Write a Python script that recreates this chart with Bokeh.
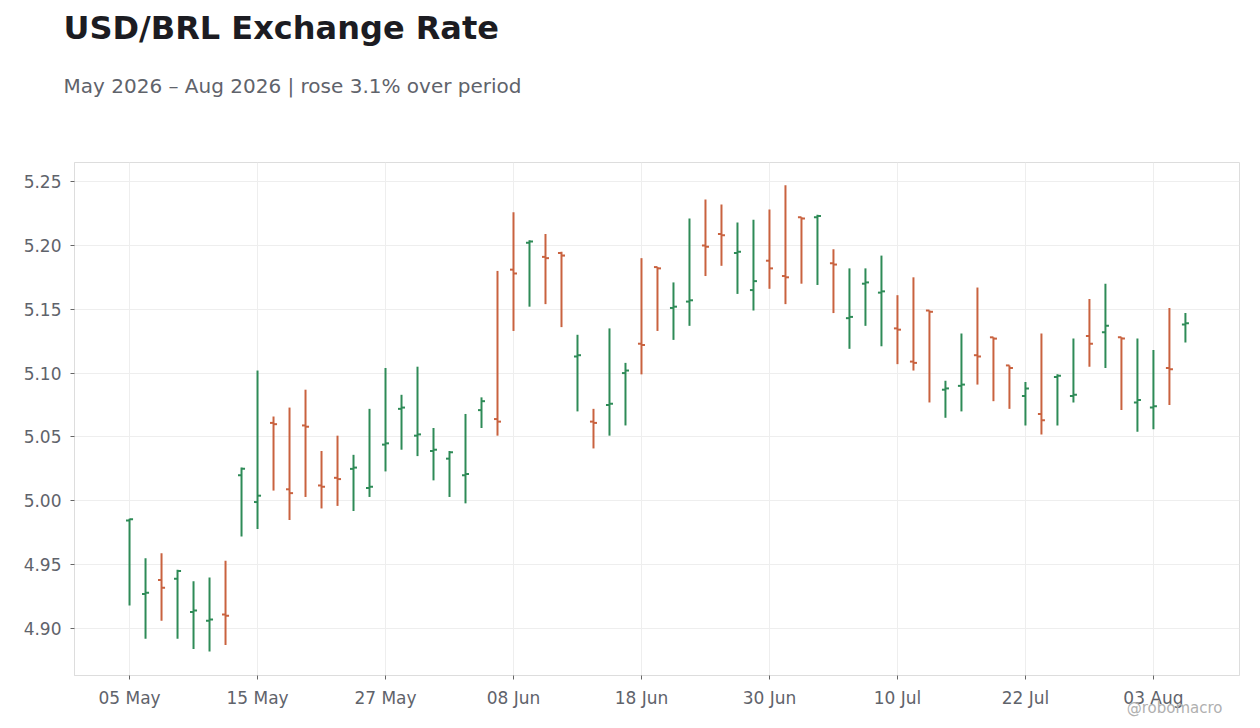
import pandas as pd
from bokeh.plotting import figure
from bokeh.models import ColumnDataSource, Range1d, FixedTicker, PrintfTickFormatter, Title
from bokeh.embed import file_html
from bokeh.resources import INLINE

# daily OHLC, business days 05 May 2026 .. 05 Aug 2026
open_ = [4.9845, 4.927, 4.938, 4.939, 4.913, 4.906, 4.911, 5.020, 4.999, 5.061,
         5.009, 5.059, 5.012, 5.018, 5.025, 5.010, 5.044, 5.072, 5.051, 5.039,
         5.033, 5.020, 5.071, 5.064, 5.181, 5.202, 5.191, 5.194, 5.113, 5.062,
         5.075, 5.100, 5.123, 5.183, 5.151, 5.156, 5.200, 5.209, 5.194, 5.165,
         5.188, 5.176, 5.222, 5.222, 5.186, 5.143, 5.170, 5.163, 5.135, 5.109,
         5.149, 5.087, 5.090, 5.114, 5.128, 5.106, 5.082, 5.068, 5.097, 5.082,
         5.129, 5.132, 5.128, 5.077, 5.073, 5.104, 5.138]
high = [4.986, 4.955, 4.959, 4.946, 4.937, 4.940, 4.953, 5.026, 5.102, 5.066,
        5.073, 5.087, 5.039, 5.051, 5.036, 5.072, 5.104, 5.083, 5.105, 5.057,
        5.039, 5.068, 5.081, 5.180, 5.226, 5.204, 5.209, 5.195, 5.130, 5.072,
        5.135, 5.108, 5.190, 5.183, 5.171, 5.221, 5.236, 5.232, 5.218, 5.220,
        5.228, 5.247, 5.222, 5.224, 5.197, 5.182, 5.182, 5.192, 5.161, 5.175,
        5.149, 5.094, 5.131, 5.167, 5.128, 5.106, 5.093, 5.131, 5.099, 5.127,
        5.158, 5.170, 5.128, 5.127, 5.118, 5.151, 5.147]
low = [4.918, 4.892, 4.906, 4.892, 4.884, 4.882, 4.887, 4.972, 4.978, 5.008,
       4.985, 5.003, 4.994, 4.996, 4.992, 5.003, 5.023, 5.040, 5.035, 5.016,
       5.003, 4.998, 5.057, 5.051, 5.133, 5.152, 5.154, 5.136, 5.070, 5.041,
       5.051, 5.059, 5.099, 5.133, 5.126, 5.137, 5.176, 5.184, 5.162, 5.149,
       5.166, 5.154, 5.170, 5.169, 5.147, 5.119, 5.137, 5.121, 5.107, 5.102,
       5.077, 5.065, 5.070, 5.091, 5.078, 5.072, 5.059, 5.052, 5.059, 5.077,
       5.105, 5.104, 5.071, 5.054, 5.056, 5.075, 5.124]
close = [4.9855, 4.928, 4.932, 4.945, 4.914, 4.907, 4.910, 5.025, 5.004, 5.060,
         5.006, 5.058, 5.011, 5.017, 5.026, 5.011, 5.045, 5.073, 5.052, 5.040,
         5.038, 5.021, 5.078, 5.062, 5.178, 5.203, 5.190, 5.192, 5.114, 5.061,
         5.076, 5.102, 5.122, 5.182, 5.152, 5.157, 5.199, 5.208, 5.195, 5.172,
         5.182, 5.175, 5.221, 5.223, 5.185, 5.144, 5.171, 5.164, 5.134, 5.108,
         5.148, 5.088, 5.091, 5.113, 5.127, 5.104, 5.088, 5.063, 5.098, 5.083,
         5.123, 5.137, 5.127, 5.079, 5.074, 5.103, 5.139]

tick_pos = [0, 8, 16, 24, 32, 40, 48, 56, 64]
tick_labels = ["05 May", "15 May", "27 May", "08 Jun", "18 Jun",
               "30 Jun", "10 Jul", "22 Jul", "03 Aug"]
y_ticks = [4.90, 4.95, 5.00, 5.05, 5.10, 5.15, 5.20, 5.25]

UP = "#2e8b57"
DOWN = "#c9623f"
TXT = "#5f636b"
FONT = "DejaVu Sans"

df = pd.DataFrame({"open": open_, "high": high, "low": low, "close": close})
df["x"] = range(len(df))
tw = 0.22
df["xl"] = df["x"] - tw
df["xr"] = df["x"] + tw
df["color"] = [UP if c >= o else DOWN for o, c in zip(df["open"], df["close"])]
src = ColumnDataSource(df)

p = figure(width=1252, height=725, output_backend="svg", toolbar_location=None,
           x_range=Range1d(-3.44, 69.38), y_range=Range1d(4.8632, 5.2649),
           min_border_left=74, min_border_right=13, min_border_top=162,
           min_border_bottom=50)
p.background_fill_color = "white"
p.border_fill_color = "white"
p.outline_line_color = "#dddddd"

p.segment(x0="x", y0="low", x1="x", y1="high", color="color", line_width=2, source=src)
p.segment(x0="xl", y0="open", x1="x", y1="open", color="color", line_width=2, source=src)
p.segment(x0="x", y0="close", x1="xr", y1="close", color="color", line_width=2, source=src)

p.xaxis.ticker = FixedTicker(ticks=tick_pos)
p.xaxis.major_label_overrides = {t: l for t, l in zip(tick_pos, tick_labels)}
p.yaxis.ticker = FixedTicker(ticks=y_ticks)
p.yaxis.formatter = PrintfTickFormatter(format="%.2f")

for ax in (p.xaxis, p.yaxis):
    ax.axis_line_color = "#dddddd"
    ax.major_tick_line_color = "#666666"
    ax.major_tick_out = 4
    ax.major_tick_in = 0
    ax.minor_tick_line_color = None
    ax.major_label_text_font = FONT
    ax.major_label_text_font_size = "17px"
    ax.major_label_text_color = TXT
p.xaxis.major_label_standoff = 8
p.yaxis.major_label_standoff = 9

p.xgrid.grid_line_color = "#eeeeee"
p.ygrid.grid_line_color = "#eeeeee"

# titles stacked above the frame: subtitle first (nearest), then main title
# (a Title sits standoff/2 off its panel edge, hence the odd numbers)
p.add_layout(Title(text="May 2026 \u2013 Aug 2026 | rose 3.1% over period",
                   text_font=FONT, text_font_size="20px", text_font_style="normal",
                   text_color=TXT, align="left", offset=-11, standoff=129), "above")
p.add_layout(Title(text="USD/BRL Exchange Rate", text_font=FONT,
                   text_font_size="32px", text_font_style="bold",
                   text_color="#1c1c22", align="left", offset=-11, standoff=-79), "above")
p.add_layout(Title(text="@robomacro", text_font=FONT, text_font_size="15px",
                   text_font_style="normal", text_color="#b0b0b0",
                   align="right", vertical_align="top", offset=17, standoff=-24), "below")

open("out.html", "w").write(file_html(p, INLINE))
